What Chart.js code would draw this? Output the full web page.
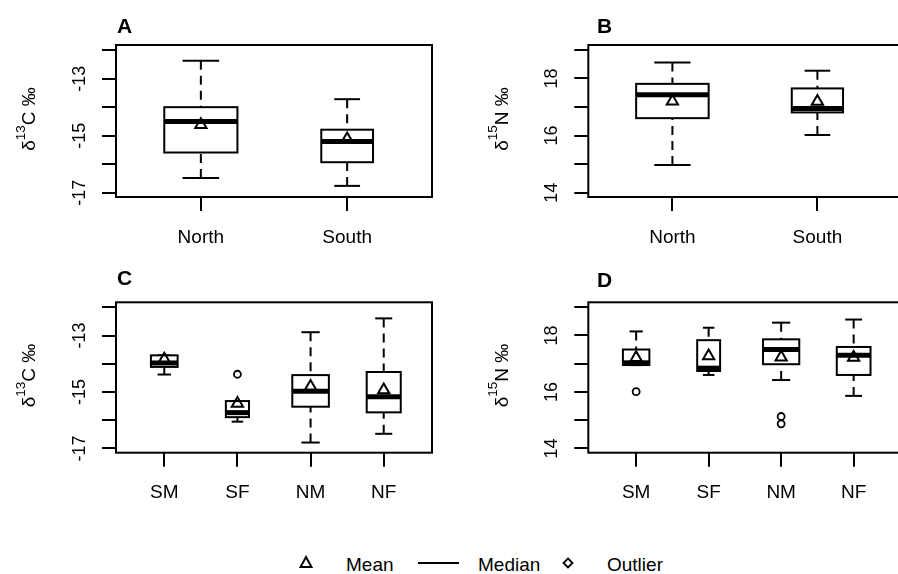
<!DOCTYPE html>
<html>
<head>
<meta charset="utf-8">
<script src="https://cdn.jsdelivr.net/npm/chart.js@4.4.1/dist/chart.umd.min.js"></script>
<style>
  body { margin: 0; background: #fff; width: 898px; height: 574px; overflow: hidden; position: relative;
         font-family: "Liberation Sans", Arial, sans-serif; color: #000; }
  .panel { position: absolute; }
  #legend span { position: absolute; top: 555px; font-size: 19px; line-height: 19px; white-space: nowrap; }
  #legend svg { position: absolute; }
  #legend .line { position: absolute; left: 418px; top: 562px; width: 41px; border-top: 2px solid #000; }
</style>
</head>
<body>
<div class="panel" style="left:0;top:0"><canvas id="chartA" width="450" height="260"></canvas></div>
<div class="panel" style="left:450px;top:0"><canvas id="chartB" width="460" height="260"></canvas></div>
<div class="panel" style="left:0;top:260px"><canvas id="chartC" width="450" height="240"></canvas></div>
<div class="panel" style="left:450px;top:260px"><canvas id="chartD" width="460" height="240"></canvas></div>
<div id="legend">
  <svg style="left:299px;top:555px" width="14" height="14"><polygon points="7,2 12.5,12 1.5,12" fill="none" stroke="#000" stroke-width="2"/></svg>
  <span style="left:346px">Mean</span>
  <div class="line"></div>
  <span style="left:478px">Median</span>
  <svg style="left:562px;top:557px" width="12" height="12"><polygon points="6,1.5 10.5,6 6,10.5 1.5,6" fill="none" stroke="#000" stroke-width="1.8"/></svg>
  <span style="left:607px">Outlier</span>
</div>
<script>
// groups on the x axis
const regions = ['North', 'South'];
const groups = ['SM', 'SF', 'NM', 'NF'];
// sample sizes (box widths are proportional to sqrt(n))
const regionN = [28, 14];
const groupN = [8, 6, 15, 13];

// five-number summaries: [lower whisker, Q1, median, Q3, upper whisker]
const carbonRegion = [
  [-16.48, -15.59, -14.50, -14.00, -12.37],
  [-16.76, -15.93, -15.20, -14.79, -13.72]
];
const carbonRegionMean = [-14.62, -15.12];
const carbonRegionOutliers = [[], []];

const nitrogenRegion = [
  [14.97, 16.61, 17.43, 17.81, 18.56],
  [16.02, 16.81, 16.95, 17.65, 18.27]
];
const nitrogenRegionMean = [17.20, 17.19];
const nitrogenRegionOutliers = [[], []];

const carbonGroup = [
  [-14.38, -14.11, -13.97, -13.70, -13.70],
  [-16.05, -15.89, -15.73, -15.32, -15.32],
  [-16.79, -15.52, -14.97, -14.40, -12.88],
  [-16.48, -15.72, -15.17, -14.29, -12.39]
];
const carbonGroupMean = [-13.84, -15.41, -14.80, -14.93];
const carbonGroupOutliers = [[], [-14.37], [], []];

const nitrogenGroup = [
  [16.95, 16.95, 17.03, 17.50, 18.14],
  [16.60, 16.74, 16.84, 17.83, 18.27],
  [16.42, 16.98, 17.50, 17.86, 18.45],
  [15.86, 16.60, 17.30, 17.59, 18.56]
];
const nitrogenGroupMean = [17.21, 17.27, 17.23, 17.22];
const nitrogenGroupOutliers = [[16.01], [], [15.13, 14.87], []];

// y axis ticks and the ones that carry a label
const carbonTicks = [-17, -16, -15, -14, -13, -12];
const carbonLabels = [-17, -15, -13];
const nitrogenTicks = [14, 15, 16, 17, 18, 19];
const nitrogenLabels = [14, 16, 18];

Chart.defaults.font.family = '"Liberation Sans", Arial, sans-serif';
Chart.defaults.color = '#000';

const FONT = '"Liberation Sans", Arial, sans-serif';

function line(ctx, x1, y1, x2, y2) {
  ctx.beginPath();
  ctx.moveTo(x1, y1);
  ctx.lineTo(x2, y2);
  ctx.stroke();
}

function boxPlugin(p) {
  return {
    id: 'boxes',
    beforeDatasetsDraw(chart) {
      const {ctx, scales: {x, y}} = chart;
      const nMax = Math.max(...p.n);
      ctx.save();
      ctx.strokeStyle = '#000';
      ctx.lineCap = 'butt';
      p.stats.forEach((s, i) => {
        const cx = x.getPixelForValue(i + 1);
        const half = 0.25 * Math.sqrt(p.n[i] / nMax);
        const left = x.getPixelForValue(i + 1 - half);
        const right = x.getPixelForValue(i + 1 + half);
        const staple = (right - left) / 4;
        const [lo, q1, med, q3, hi] = s.map(v => y.getPixelForValue(v));
        ctx.lineWidth = 2;
        ctx.setLineDash([9, 6]);
        line(ctx, cx, lo, cx, q1);
        line(ctx, cx, hi, cx, q3);
        ctx.setLineDash([]);
        line(ctx, cx - staple, lo, cx + staple, lo);
        line(ctx, cx - staple, hi, cx + staple, hi);
        ctx.fillStyle = '#fff';
        ctx.fillRect(left, q3, right - left, q1 - q3);
        ctx.strokeRect(left, q3, right - left, q1 - q3);
        ctx.lineWidth = 5;
        line(ctx, left, med, right, med);
      });
      ctx.restore();
    },
    afterDraw(chart) {
      const {ctx, chartArea: a, scales: {y}} = chart;
      ctx.save();
      // frame round the plot region
      ctx.strokeStyle = '#000';
      ctx.lineWidth = 2;
      ctx.strokeRect(a.left, a.top, a.right - a.left, a.bottom - a.top);
      ctx.fillStyle = '#000';
      // panel letter
      ctx.font = 'bold 21px ' + FONT;
      ctx.textBaseline = 'alphabetic';
      ctx.textAlign = 'left';
      ctx.fillText(p.letter, p.letterX, p.letterY);
      // rotated y tick labels, placed on the y scale
      ctx.font = '18px ' + FONT;
      ctx.textAlign = 'center';
      ctx.textBaseline = 'middle';
      p.labels.forEach(v => {
        ctx.save();
        ctx.translate(a.left - 36, y.getPixelForValue(v));
        ctx.rotate(-Math.PI / 2);
        ctx.fillText(String(v), 0, 0);
        ctx.restore();
      });
      // y axis title with superscript
      ctx.translate(a.left - 86, (a.top + a.bottom) / 2 - 2);
      ctx.rotate(-Math.PI / 2);
      ctx.textAlign = 'left';
      const parts = [
        {t: 'δ', size: 19, rise: 0},
        {t: p.iso, size: 13.5, rise: 9},
        {t: p.elem + ' ‰', size: 19, rise: 0}
      ];
      let total = 0;
      parts.forEach(q => { ctx.font = q.size + 'px ' + FONT; q.w = ctx.measureText(q.t).width; total += q.w; });
      let xx = -total / 2;
      parts.forEach(q => {
        ctx.font = q.size + 'px ' + FONT;
        ctx.fillText(q.t, xx, -q.rise);
        xx += q.w;
      });
      ctx.restore();
    }
  };
}

function makePanel(id, p) {
  const tickGrid = { display: true, drawOnChartArea: false, drawTicks: true, tickLength: 14, color: '#000', lineWidth: 2 };
  const outlierPts = p.outliers.flatMap((arr, i) => arr.map(v => ({x: i + 1, y: v})));
  new Chart(document.getElementById(id), {
    type: 'scatter',
    data: {
      datasets: [
        {
          label: 'Mean',
          data: p.mean.map((m, i) => ({x: i + 1, y: m})),
          pointStyle: 'triangle',
          pointRadius: 6.5,
          borderColor: '#000',
          backgroundColor: 'rgba(0,0,0,0)',
          borderWidth: 2
        },
        {
          label: 'Outlier',
          data: outlierPts,
          pointStyle: 'circle',
          pointRadius: 3.5,
          borderColor: '#000',
          backgroundColor: 'rgba(0,0,0,0)',
          borderWidth: 1.8
        }
      ]
    },
    options: {
      responsive: false,
      animation: false,
      devicePixelRatio: 1,
      events: [],
      layout: {
        padding: { left: p.area.left - 40, right: p.w - p.area.right, top: p.area.top, bottom: p.h - p.area.bottom - 50 }
      },
      plugins: { legend: { display: false }, tooltip: { enabled: false }, title: { display: false } },
      scales: {
        x: {
          type: 'linear',
          min: 0.5 - 0.04 * p.cats.length,
          max: p.cats.length + 0.5 + 0.04 * p.cats.length,
          afterBuildTicks: s => { s.ticks = p.cats.map((c, i) => ({value: i + 1})); },
          afterFit: s => { s.height = 50; },
          ticks: {
            autoSkip: false, minRotation: 0, maxRotation: 0, padding: 15,
            font: {size: 19}, color: '#000',
            callback: (v, i) => p.cats[i]
          },
          grid: tickGrid,
          border: { display: false }
        },
        y: {
          type: 'linear',
          min: p.yMin,
          max: p.yMax,
          afterBuildTicks: s => { s.ticks = p.ticks.map(v => ({value: v})); },
          afterFit: s => { s.width = 40; },
          ticks: { display: false, autoSkip: false },
          grid: tickGrid,
          border: { display: false }
        }
      }
    },
    plugins: [boxPlugin(p)]
  });
}

makePanel('chartA', {
  cats: regions, n: regionN, stats: carbonRegion, mean: carbonRegionMean, outliers: carbonRegionOutliers,
  ticks: carbonTicks, labels: carbonLabels, yMin: -17.15, yMax: -11.82,
  iso: '13', elem: 'C', letter: 'A', letterX: 117, letterY: 33,
  w: 450, h: 260, area: {left: 116, right: 432, top: 45, bottom: 197}
});
makePanel('chartB', {
  cats: regions, n: regionN, stats: nitrogenRegion, mean: nitrogenRegionMean, outliers: nitrogenRegionOutliers,
  ticks: nitrogenTicks, labels: nitrogenLabels, yMin: 13.85, yMax: 19.17,
  iso: '15', elem: 'N', letter: 'B', letterX: 147, letterY: 33,
  w: 460, h: 260, area: {left: 138.3, right: 454.3, top: 45, bottom: 197}
});
makePanel('chartC', {
  cats: groups, n: groupN, stats: carbonGroup, mean: carbonGroupMean, outliers: carbonGroupOutliers,
  ticks: carbonTicks, labels: carbonLabels, yMin: -17.15, yMax: -11.82,
  iso: '13', elem: 'C', letter: 'C', letterX: 117, letterY: 25,
  w: 450, h: 240, area: {left: 116, right: 432, top: 42.3, bottom: 192.7}
});
makePanel('chartD', {
  cats: groups, n: groupN, stats: nitrogenGroup, mean: nitrogenGroupMean, outliers: nitrogenGroupOutliers,
  ticks: nitrogenTicks, labels: nitrogenLabels, yMin: 13.85, yMax: 19.17,
  iso: '15', elem: 'N', letter: 'D', letterX: 147, letterY: 27,
  w: 460, h: 240, area: {left: 138.3, right: 454.3, top: 42.3, bottom: 192.7}
});
</script>
</body>
</html>
